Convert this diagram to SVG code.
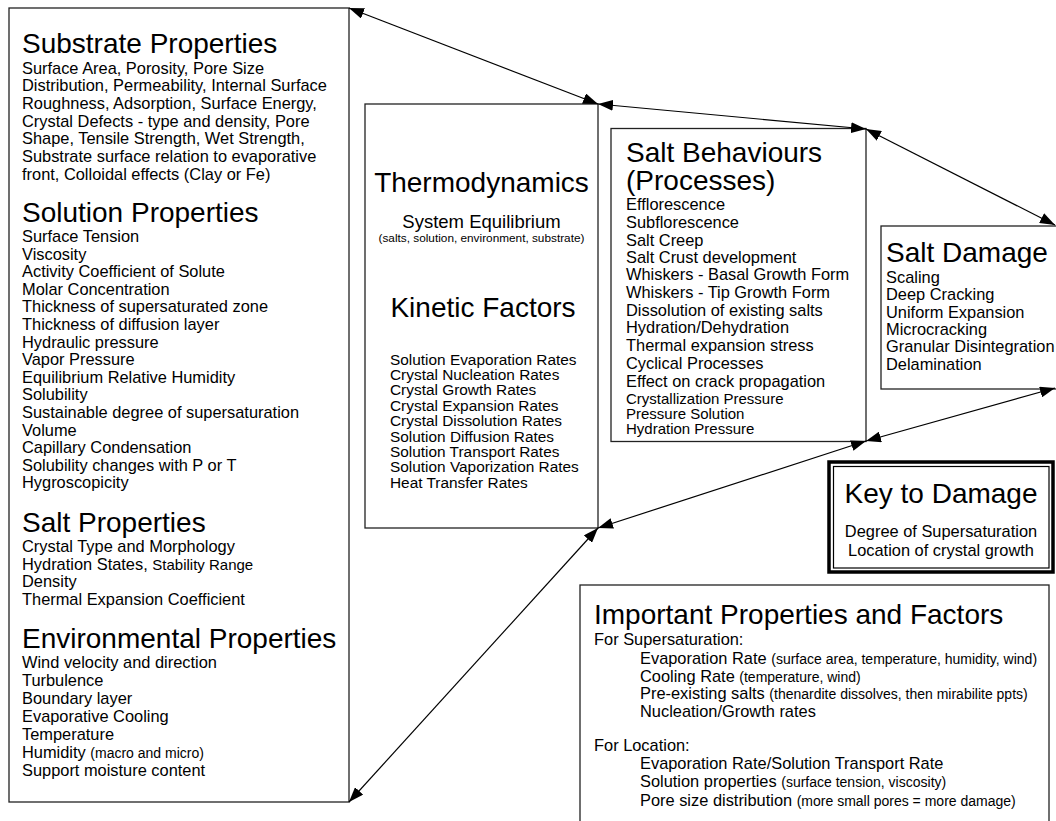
<svg xmlns="http://www.w3.org/2000/svg" width="1056" height="821" viewBox="0 0 1056 821">
<style>
text{font-family:"Liberation Sans",Arial,Helvetica,sans-serif;fill:#000}
.h{font-size:28px}
.b{font-size:16.4px}
.k{font-size:15.4px}
.p{font-size:14px}
.m{font-size:15px}
.t{font-size:11.8px}
.c{text-anchor:middle}
.box{fill:#fff;stroke:#222;stroke-width:1.3}
.conn line{stroke:#000;stroke-width:1.2;marker-start:url(#ah);marker-end:url(#ah)}
</style>
<defs>
<marker id="ah" viewBox="0 0 15 11" refX="15" refY="5.5" markerWidth="15" markerHeight="11" markerUnits="userSpaceOnUse" orient="auto-start-reverse">
<path d="M0,0 L15,5.5 L0,11 z" fill="#000"/>
</marker>
</defs>
<rect width="1056" height="821" fill="#fff"/>

<g id="properties">
<rect class="box" x="9" y="8" width="340" height="794"/>
<text class="h" x="22" y="53">Substrate Properties</text>
<text class="b" x="22" y="73.5">Surface Area, Porosity, Pore Size</text>
<text class="b" x="22" y="91.2">Distribution, Permeability, Internal Surface</text>
<text class="b" x="22" y="108.9">Roughness, Adsorption, Surface Energy,</text>
<text class="b" x="22" y="126.6">Crystal Defects - type and density, Pore</text>
<text class="b" x="22" y="144.3">Shape, Tensile Strength, Wet Strength,</text>
<text class="b" x="22" y="162">Substrate surface relation to evaporative</text>
<text class="b" x="22" y="179.7">front, Colloidal effects (Clay or Fe)</text>

<text class="h" x="22" y="222">Solution Properties</text>
<text class="b" x="22" y="242">Surface Tension</text>
<text class="b" x="22" y="259.6">Viscosity</text>
<text class="b" x="22" y="277.2">Activity Coefficient of Solute</text>
<text class="b" x="22" y="294.8">Molar Concentration</text>
<text class="b" x="22" y="312.4">Thickness of supersaturated zone</text>
<text class="b" x="22" y="330">Thickness of diffusion layer</text>
<text class="b" x="22" y="347.6">Hydraulic pressure</text>
<text class="b" x="22" y="365.2">Vapor Pressure</text>
<text class="b" x="22" y="382.8">Equilibrium Relative Humidity</text>
<text class="b" x="22" y="400.4">Solubility</text>
<text class="b" x="22" y="418">Sustainable degree of supersaturation</text>
<text class="b" x="22" y="435.6">Volume</text>
<text class="b" x="22" y="453.2">Capillary Condensation</text>
<text class="b" x="22" y="470.8">Solubility changes with P or T</text>
<text class="b" x="22" y="488.4">Hygroscopicity</text>

<text class="h" x="22" y="532">Salt Properties</text>
<text class="b" x="22" y="552">Crystal Type and Morphology</text>
<text class="b" x="22" y="569.7">Hydration States, <tspan class="m">Stability Range</tspan></text>
<text class="b" x="22" y="587.4">Density</text>
<text class="b" x="22" y="605">Thermal Expansion Coefficient</text>

<text class="h" x="22" y="648">Environmental Properties</text>
<text class="b" x="22" y="668">Wind velocity and direction</text>
<text class="b" x="22" y="686">Turbulence</text>
<text class="b" x="22" y="704">Boundary layer</text>
<text class="b" x="22" y="722">Evaporative Cooling</text>
<text class="b" x="22" y="740">Temperature</text>
<text class="b" x="22" y="757.5">Humidity <tspan class="p">(macro and micro)</tspan></text>
<text class="b" x="22" y="775.5">Support moisture content</text>
</g>

<g id="thermo-kinetics">
<rect class="box" x="365" y="104" width="233" height="424"/>
<text class="h c" x="481.5" y="192">Thermodynamics</text>
<text class="c" x="481.5" y="228" style="font-size:18.5px">System Equilibrium</text>
<text class="t c" x="481.5" y="242">(salts, solution, environment, substrate)</text>
<text class="h c" x="483" y="317">Kinetic Factors</text>
<text class="k" x="390" y="364.5">Solution Evaporation Rates</text>
<text class="k" x="390" y="379.9">Crystal Nucleation Rates</text>
<text class="k" x="390" y="395.3">Crystal Growth Rates</text>
<text class="k" x="390" y="410.7">Crystal Expansion Rates</text>
<text class="k" x="390" y="426.1">Crystal Dissolution Rates</text>
<text class="k" x="390" y="441.5">Solution Diffusion Rates</text>
<text class="k" x="390" y="456.9">Solution Transport Rates</text>
<text class="k" x="390" y="472.3">Solution Vaporization Rates</text>
<text class="k" x="390" y="487.7">Heat Transfer Rates</text>
</g>

<g id="salt-behaviours">
<rect class="box" x="611" y="128.5" width="255" height="313"/>
<text class="h" x="626" y="162">Salt Behaviours</text>
<text class="h" x="626" y="190">(Processes)</text>
<text class="b" x="626" y="209.5">Efflorescence</text>
<text class="b" x="626" y="227.5">Subflorescence</text>
<text class="b" x="626" y="245.5">Salt Creep</text>
<text class="b" x="626" y="263">Salt Crust development</text>
<text class="b" x="626" y="280">Whiskers - Basal Growth Form</text>
<text class="b" x="626" y="298">Whiskers - Tip Growth Form</text>
<text class="b" x="626" y="316">Dissolution of existing salts</text>
<text class="b" x="626" y="333">Hydration/Dehydration</text>
<text class="b" x="626" y="351">Thermal expansion stress</text>
<text class="b" x="626" y="368.5">Cyclical Processes</text>
<text class="b" x="626" y="386.5">Effect on crack propagation</text>
<text class="m" x="626" y="403.5">Crystallization Pressure</text>
<text class="m" x="626" y="418.5">Pressure Solution</text>
<text class="m" x="626" y="434">Hydration Pressure</text>
</g>

<g id="salt-damage">
<rect class="box" x="881" y="226" width="200" height="163"/>
<text class="h" x="886" y="262">Salt Damage</text>
<text class="b" x="886" y="282.5">Scaling</text>
<text class="b" x="886" y="300">Deep Cracking</text>
<text class="b" x="886" y="317.5">Uniform Expansion</text>
<text class="b" x="886" y="335">Microcracking</text>
<text class="b" x="886" y="352">Granular Disintegration</text>
<text class="b" x="886" y="369.5">Delamination</text>
</g>

<g id="key-to-damage">
<rect x="829" y="462" width="224" height="110" fill="#fff" stroke="#000" stroke-width="3.5"/>
<rect x="833.5" y="466.5" width="215.5" height="101.5" fill="none" stroke="#000" stroke-width="1.2"/>
<text class="h c" x="941" y="503">Key to Damage</text>
<text class="b c" x="941" y="537">Degree of Supersaturation</text>
<text class="b c" x="941" y="555.5">Location of crystal growth</text>
</g>

<g id="important">
<rect class="box" x="580" y="585" width="469" height="260"/>
<text class="h" x="594" y="624">Important Properties and Factors</text>
<text class="b" x="594" y="645">For Supersaturation:</text>
<text class="b" x="640" y="664">Evaporation Rate <tspan class="p">(surface area, temperature, humidity, wind)</tspan></text>
<text class="b" x="640" y="681.5">Cooling Rate <tspan class="p">(temperature, wind)</tspan></text>
<text class="b" x="640" y="699">Pre-existing salts <tspan class="p">(thenardite dissolves, then mirabilite ppts)</tspan></text>
<text class="b" x="640" y="717">Nucleation/Growth rates</text>
<text class="b" x="594" y="751">For Location:</text>
<text class="b" x="640" y="769">Evaporation Rate/Solution Transport Rate</text>
<text class="b" x="640" y="787">Solution properties <tspan class="p">(surface tension, viscosity)</tspan></text>
<text class="b" x="640" y="805.5">Pore size distribution <tspan class="p">(more small pores = more damage)</tspan></text>
</g>

<g id="connectors" class="conn">
<line x1="349" y1="8" x2="598" y2="104"/>
<line x1="598" y1="104" x2="866" y2="129"/>
<line x1="866" y1="129" x2="1055" y2="225"/>
<line x1="1055" y1="388" x2="866" y2="441"/>
<line x1="866" y1="441" x2="598" y2="528"/>
<line x1="598" y1="528" x2="349" y2="802"/>
</g>
</svg>
